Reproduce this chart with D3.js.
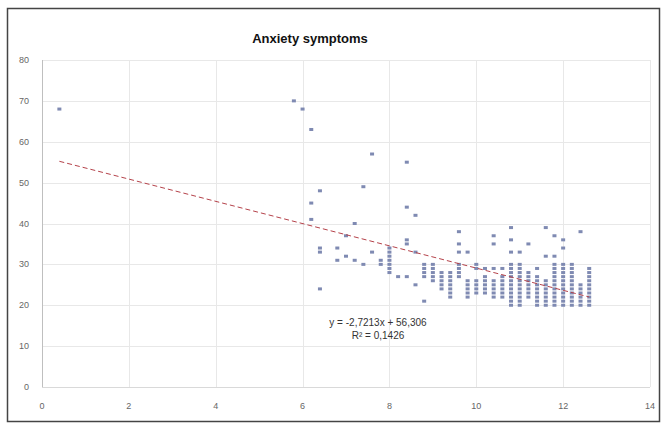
<!DOCTYPE html>
<html>
<head>
<meta charset="utf-8">
<script src="https://cdn.jsdelivr.net/npm/d3@7"></script>
<style>
    body { margin: 0; background: #ffffff; }
    svg { display: block; font-family: "Liberation Sans", Arial, sans-serif; }
    .label { fill: #666666; font-size: 9px; }
    .title { fill: #111111; font-size: 13px; font-weight: bold; }
    .equation { fill: #333333; font-size: 10px; }
</style>
</head>
<body>
<svg id="chart" width="664" height="425"></svg>
<script>
// x position of each column of points, and the anxiety scores found in it
const COLUMN_X = [
    0.4, 5.8, 6.0, 6.2, 6.4, 6.8, 7.0, 7.2, 7.4, 7.6, 7.8, 8.0, 8.2, 8.4, 8.6,
    8.8, 9.0, 9.2, 9.4, 9.6, 9.8, 10.0, 10.2, 10.4, 10.6, 10.8, 11.0, 11.2,
    11.4, 11.6, 11.8, 12.0, 12.2, 12.4, 12.6
];
const COLUMN_SCORES = [
    [68],
    [70],
    [68],
    [63, 45, 41],
    [48, 34, 33, 24],
    [34, 31],
    [37, 32],
    [40, 31],
    [49, 30],
    [57, 33],
    [31, 30],
    [34, 33, 32, 31, 30, 29, 28],
    [27],
    [55, 44, 36, 35, 27],
    [42, 33, 25],
    [30, 29, 28, 27, 21],
    [30, 29, 28, 27, 26],
    [28, 27, 26, 25, 24],
    [28, 27, 26, 25, 24, 23, 22],
    [38, 35, 33, 30, 29, 28, 27],
    [33, 26, 25, 24, 23, 22],
    [30, 29, 26, 25, 24, 23],
    [29, 27, 26, 25, 24, 23],
    [37, 35, 29, 26, 25, 24, 23, 22],
    [29, 27, 26, 25, 24, 23, 22],
    [39, 36, 33, 30, 29, 28, 27, 26, 25, 24, 23, 22, 21, 20],
    [33, 30, 29, 28, 27, 26, 25, 24, 23, 22, 21, 20],
    [35, 28, 27, 26, 25, 24, 23, 22],
    [29, 27, 26, 25, 24, 23, 22, 21, 20],
    [39, 32, 26, 25, 24, 23, 22, 21, 20],
    [37, 32, 30, 29, 28, 27, 26, 25, 24, 23, 22, 21, 20],
    [36, 34, 30, 29, 28, 27, 26, 25, 24, 23, 22, 21, 20],
    [30, 29, 28, 27, 26, 25, 24, 23, 22, 21, 20],
    [38, 25, 24, 23, 22, 21, 20],
    [29, 28, 27, 26, 25, 24, 23, 22, 21, 20]
];

const X_TICKS = [0, 2, 4, 6, 8, 10, 12, 14];
const Y_TICKS = [0, 10, 20, 30, 40, 50, 60, 70, 80];

// Linear trendline as printed on the chart
const TREND_SLOPE = -2.7213;
const TREND_INTERCEPT = 56.306;
const TREND_RANGE = [0.4, 12.6];
const EQUATION_LINES = ["y = -2,7213x + 56,306", "R² = 0,1426"];

const TITLE = "Anxiety symptoms";

const points = [];
COLUMN_X.forEach((x, i) => {
    COLUMN_SCORES[i].forEach((score) => {
        points.push({"x": x, "y": score});
    });
});

const svg = d3.select("#chart");

// Chart border
svg.append("rect")
    .attr("x", 7.5)
    .attr("y", 8.5)
    .attr("width", 652)
    .attr("height", 413)
    .attr("fill", "#ffffff")
    .attr("stroke", "#444444")
    .attr("stroke-width", 1.5);

const xScale = d3.scaleLinear()
    .domain([0, 14])
    .range([42, 650]);

const yScale = d3.scaleLinear()
    .domain([0, 80])
    .range([387, 60]);

// Gridlines
svg.append("g")
    .selectAll("line")
    .data(Y_TICKS.slice(1))
    .join("line")
    .attr("x1", xScale(0))
    .attr("x2", xScale(14))
    .attr("y1", (d) => Math.round(yScale(d)) + 0.5)
    .attr("y2", (d) => Math.round(yScale(d)) + 0.5)
    .attr("stroke", "#e8e8e8");

svg.append("g")
    .selectAll("line")
    .data(X_TICKS.slice(1))
    .join("line")
    .attr("x1", (d) => Math.round(xScale(d)) + 0.5)
    .attr("x2", (d) => Math.round(xScale(d)) + 0.5)
    .attr("y1", yScale(80))
    .attr("y2", yScale(0))
    .attr("stroke", "#e8e8e8");

// Axis lines
svg.append("line")
    .attr("x1", xScale(0))
    .attr("x2", xScale(14))
    .attr("y1", Math.round(yScale(0)) + 0.5)
    .attr("y2", Math.round(yScale(0)) + 0.5)
    .attr("stroke", "#d9d9d9");

svg.append("line")
    .attr("x1", Math.round(xScale(0)) + 0.5)
    .attr("x2", Math.round(xScale(0)) + 0.5)
    .attr("y1", yScale(80))
    .attr("y2", yScale(0))
    .attr("stroke", "#bfbfbf");

// Tick labels
svg.append("g")
    .selectAll("text")
    .data(Y_TICKS)
    .join("text")
    .classed("label", true)
    .attr("x", 29)
    .attr("y", (d) => yScale(d) + 3)
    .attr("text-anchor", "end")
    .text((d) => d);

svg.append("g")
    .selectAll("text")
    .data(X_TICKS)
    .join("text")
    .classed("label", true)
    .attr("x", (d) => xScale(d))
    .attr("y", 409)
    .attr("text-anchor", "middle")
    .text((d) => d);

// Title
svg.append("text")
    .classed("title", true)
    .attr("x", 310)
    .attr("y", 43)
    .attr("text-anchor", "middle")
    .text(TITLE);

// Points
svg.append("g")
    .selectAll("rect")
    .data(points)
    .join("rect")
    .attr("x", (d) => xScale(d.x) - 2)
    .attr("y", (d) => yScale(d.y) - 1.5)
    .attr("width", 4)
    .attr("height", 3)
    .attr("fill", "#7f8ab2");

// Trendline
const trendLine = d3.line()
    .x((d) => xScale(d))
    .y((d) => yScale(TREND_SLOPE * d + TREND_INTERCEPT));

svg.append("path")
    .attr("d", trendLine(TREND_RANGE))
    .attr("fill", "none")
    .attr("stroke", "#b5424a")
    .attr("stroke-width", 1)
    .attr("stroke-dasharray", "5,3");

// Equation
svg.append("g")
    .selectAll("text")
    .data(EQUATION_LINES)
    .join("text")
    .classed("equation", true)
    .attr("x", 378)
    .attr("y", (d, i) => 326 + i * 13)
    .attr("text-anchor", "middle")
    .text((d) => d);
</script>
</body>
</html>
